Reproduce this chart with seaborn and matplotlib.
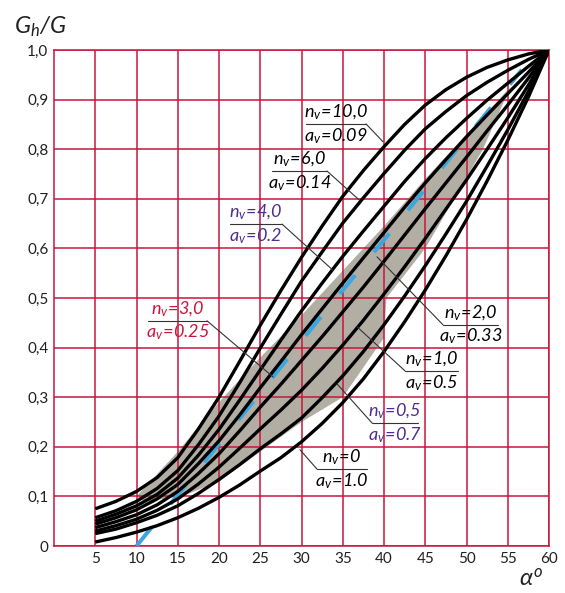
import matplotlib
matplotlib.use('Agg')
import matplotlib.pyplot as plt
import seaborn as sns
import pandas as pd
from matplotlib import font_manager

# --- values ---
alpha = [5, 7.5, 10, 12.5, 15, 17.5, 20, 22.5, 25, 27.5, 30, 32.5,
         35, 37.5, 40, 42.5, 45, 47.5, 50, 52.5, 55, 57.5, 60]

gh_n10 = [.075, .090, .110, .138, .178, .236, .300, .372, .445, .515, .582, .645,
          .705, .757, .805, .850, .889, .920, .945, .965, .980, .992, 1.0]
gh_n6 = [.057, .071, .090, .116, .152, .204, .262, .329, .399, .467, .534, .593,
         .651, .702, .751, .798, .841, .876, .908, .935, .959, .981, 1.0]
gh_n4 = [.050, .064, .081, .104, .137, .183, .235, .294, .355, .415, .474, .530,
         .584, .635, .685, .735, .781, .823, .862, .899, .933, .967, 1.0]
gh_n3 = [.044, .057, .073, .095, .124, .166, .212, .264, .319, .372, .426, .478,
         .530, .581, .632, .683, .732, .779, .825, .869, .912, .955, 1.0]
gh_n2 = [.037, .049, .063, .083, .110, .146, .186, .232, .280, .326, .374, .422,
         .472, .522, .574, .627, .680, .732, .784, .837, .889, .943, 1.0]
gh_n1 = [.030, .041, .054, .072, .095, .125, .159, .197, .236, .274, .314, .358,
         .405, .455, .508, .563, .620, .679, .738, .800, .863, .929, 1.0]
gh_n05 = [.025, .034, .047, .062, .081, .106, .134, .164, .196, .226, .258, .299,
          .343, .392, .446, .504, .565, .629, .695, .766, .839, .916, 1.0]
gh_n0 = [.008, .017, .028, .041, .057, .076, .098, .123, .151, .178, .210, .247,
         .289, .337, .392, .452, .516, .585, .658, .736, .818, .905, 1.0]

# experimental line (blue dashes)
exp_x = [10, 24.1, 32.2, 40.5, 48.6, 56.7]
exp_y = [0.0, 0.29, 0.459, 0.627, 0.795, 0.96]

# shaded band outline
band_x = [10, 15, 20, 25, 30, 35, 40, 45, 50, 55.3,
          52, 48.5, 45, 40.3, 40, 35, 30, 25, 20, 15.5, 11]
band_y = [0.10, 0.19, 0.29, 0.38, 0.465, 0.555, 0.645, 0.74, 0.83, 0.925,
          0.80, 0.70, 0.60, 0.50, 0.42, 0.30, 0.25, 0.19, 0.13, 0.10, 0.09]

n_labels = ['10,0', '6,0', '4,0', '3,0', '2,0', '1,0', '0,5', '0']
a_labels = ['0.09', '0.14', '0.2', '0.25', '0.33', '0.5', '0.7', '1.0']
yticks = ['0', '0,1', '0,2', '0,3', '0,4', '0,5', '0,6', '0,7', '0,8', '0,9', '1,0']
xticks = [5, 10, 15, 20, 25, 30, 35, 40, 45, 50, 55, 60]

curves = [gh_n10, gh_n6, gh_n4, gh_n3, gh_n2, gh_n1, gh_n05, gh_n0]
df = pd.concat([pd.DataFrame({'alpha': alpha, 'gh': c, 'n': n})
                for c, n in zip(curves, n_labels)])

# colours
RED = '#c8163c'
PURPLE = '#4b2d8f'
BLUE = '#3aa7e0'
GRAY = '#b3aea4'
label_colors = ['k', 'k', PURPLE, RED, 'k', 'k', PURPLE, 'k']

sns.set_style('white')
names = {f.name for f in font_manager.fontManager.ttflist}
lab_font = next(f for f in ['Liberation Sans Narrow', 'Lato', 'DejaVu Sans'] if f in names)
tick_font = next(f for f in ['Lato', 'Open Sans', 'DejaVu Sans'] if f in names)
plt.rcParams['font.family'] = [tick_font, 'DejaVu Sans']
plt.rcParams['mathtext.fontset'] = 'custom'
plt.rcParams['mathtext.it'] = lab_font + ':italic'
plt.rcParams['mathtext.rm'] = lab_font + ':italic'

fig = plt.figure(figsize=(5.65, 5.93), dpi=100)
ax = fig.add_axes([54 / 565, 47 / 593, 495 / 565, 496 / 593])

ax.fill(band_x, band_y, color=GRAY, lw=0, zorder=1)
ax.plot(exp_x, exp_y, color=BLUE, lw=2.9, dashes=(6.0, 7.4),
        dash_capstyle='butt', zorder=2.8)
sns.lineplot(data=df, x='alpha', y='gh', hue='n', palette={n: 'k' for n in n_labels},
             sort=False, legend=False, lw=2.4, ax=ax, zorder=3)
for ln in ax.lines[1:]:
    ln.set_solid_capstyle('butt')
    ln.set_solid_joinstyle('round')

ax.set_xlim(0, 60)
ax.set_ylim(0, 1.0)
ax.set_xticks(xticks)
ax.set_xticklabels([str(v) for v in xticks])
ax.set_yticks([i / 10 for i in range(11)])
ax.set_yticklabels(yticks)
ax.tick_params(length=0, labelsize=11, colors='#231f20', pad=4)
ax.set_xlabel('')
ax.set_ylabel('')
ax.set_axisbelow(False)
ax.grid(True, color=RED, lw=1.1, zorder=2.5)
for s in ax.spines.values():
    s.set_color(RED)
    s.set_linewidth(1.1)

# label layout: underline x0, x1, y ; leader end point ; leader starts at right end?
layout = [
    (30.55, 37.82, 0.851, 39.88, 0.815, True),
    (26.42, 33.09, 0.756, 36.97, 0.698, True),
    (21.33, 27.64, 0.649, 33.82, 0.556, True),
    (11.39, 18.55, 0.454, 26.55, 0.341, True),
    (47.15, 53.82, 0.446, 39.15, 0.583, False),
    (42.55, 48.97, 0.353, 36.73, 0.442, False),
    (38.55, 44.12, 0.248, 34.30, 0.327, False),
    (31.88, 37.94, 0.155, 29.82, 0.194, False),
]
for (x0, x1, yu, xe, ye, right), nl, al, col in zip(layout, n_labels, a_labels, label_colors):
    xs = x1 if right else x0
    ax.plot([x0, x1], [yu, yu], color='#333333', lw=0.8, zorder=4)
    ax.plot([xs, xe], [yu, ye], color='#333333', lw=0.8, zorder=4)
    xc = (x0 + x1) / 2
    ax.text(xc, yu + 0.004, r'$n_v\!=\!%s$' % nl.replace(',', '{,}'), color=col,
            fontsize=13, ha='center', va='bottom', zorder=5)
    ax.text(xc, yu - 0.004, r'$a_v\!=\!%s$' % al, color=col,
            fontsize=13, ha='center', va='top', zorder=5)

fig.text(0.025, 0.943, r'$G_h/G$', fontsize=17, color='#231f20')
fig.text(0.918, 0.012, r'$\alpha^o$', fontsize=17, color='#231f20')

fig.savefig('out.png', dpi=100)
